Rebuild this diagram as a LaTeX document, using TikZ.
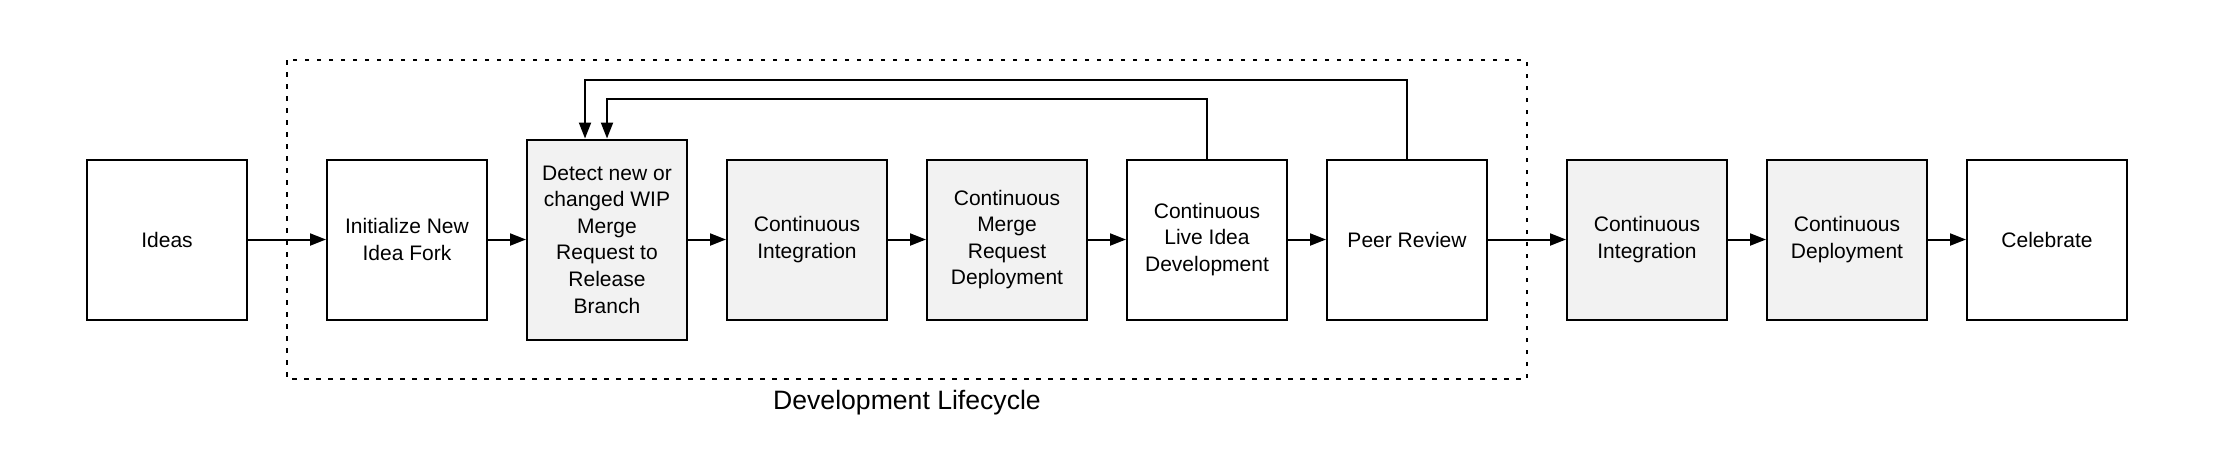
\documentclass[tikz,border=0pt]{standalone}
\usepackage{fontspec}
\setmainfont{Liberation Sans}
\usetikzlibrary{arrows.meta}
\definecolor{boxgray}{HTML}{F2F2F2}
\tikzset{
  x=0.5pt, y=-0.5pt,
  stepbox/.style={draw=black, line width=1pt, fill=white, minimum width=80pt, minimum height=80pt,
    align=center, inner sep=2pt, font=\fontsize{10.5}{13.3}\selectfont},
  graybox/.style={stepbox, fill=boxgray},
  flow/.style={line width=1pt, -{Triangle[length=8pt,width=6pt]}},
  group/.style={line width=1pt, dash pattern=on 2.25pt off 3.75pt}
}
\begin{document}
\begin{tikzpicture}
\useasboundingbox (0,0) rectangle (2216,452);
\draw[group] (287,60) rectangle (1527,379);
\node[font=\fontsize{13.3}{16}\selectfont] (lbl) at (907,403) {Development Lifecycle};

\node[stepbox] (ideas) at (167,239.5) {Ideas};
\node[stepbox] (init) at (407,239.5) {Initialize New\\Idea Fork};
\node[graybox, minimum height=100pt] (detect) at (607,239.5) {Detect new or\\changed WIP\\Merge\\Request to\\Release\\Branch};
\node[graybox] (ci) at (807,239.5) {Continuous\\Integration};
\node[graybox] (cmrd) at (1007,239.5) {Continuous\\Merge\\Request\\Deployment};
\node[stepbox] (clid) at (1207,239.5) {Continuous\\Live Idea\\Development};
\node[stepbox] (pr) at (1407,239.5) {Peer Review};
\node[graybox] (ci2) at (1647,239.5) {Continuous\\Integration};
\node[graybox] (cd) at (1847,239.5) {Continuous\\Deployment};
\node[stepbox] (cel) at (2047,239.5) {Celebrate};

\draw[flow] (ideas) -- (init);
\draw[flow] (init) -- (detect);
\draw[flow] (detect) -- (ci);
\draw[flow] (ci) -- (cmrd);
\draw[flow] (cmrd) -- (clid);
\draw[flow] (clid) -- (pr);
\draw[flow] (pr) -- (ci2);
\draw[flow] (ci2) -- (cd);
\draw[flow] (cd) -- (cel);

\coordinate (o1) at (1407,80);
\coordinate (o2) at (585,80);
\draw[flow] (pr.north) -- (o1) -- (o2) -- (o2 |- detect.north);
\coordinate (i1) at (1207,99);
\coordinate (i2) at (607,99);
\draw[flow] (clid.north) -- (i1) -- (i2) -- (detect.north);
\end{tikzpicture}
\end{document}
